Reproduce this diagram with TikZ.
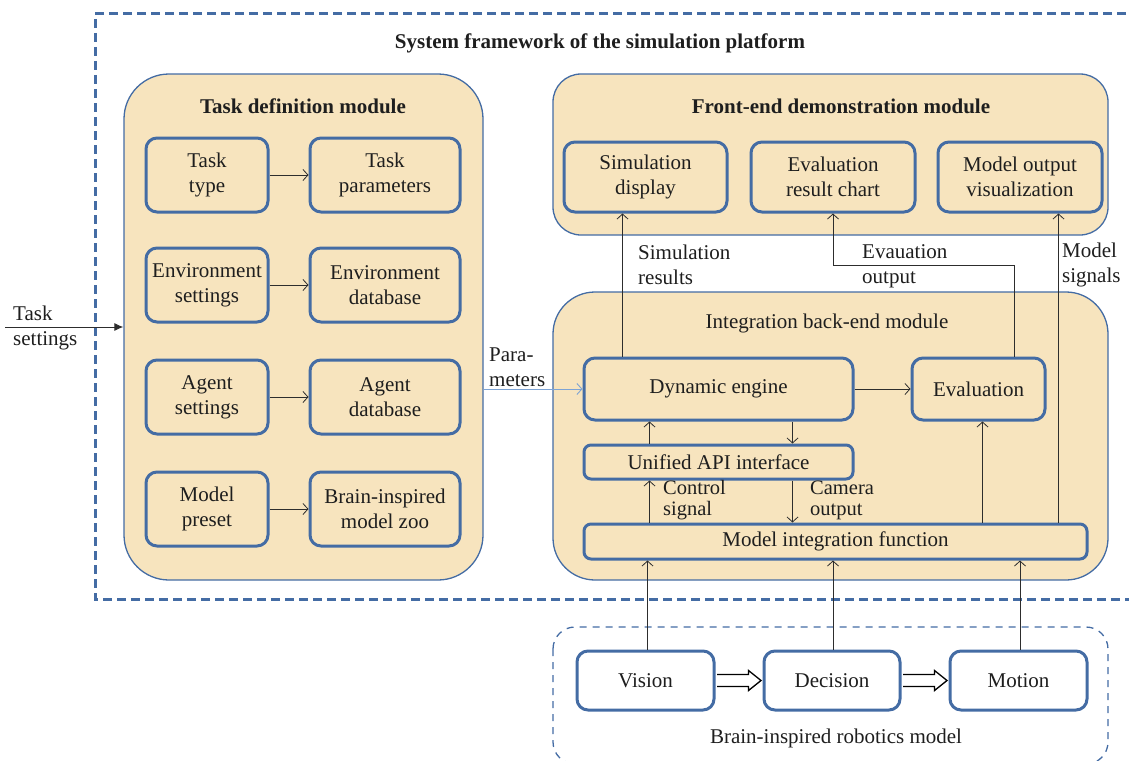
\documentclass[tikz,border=0pt]{standalone}
\usepackage{fontspec}
\IfFontExistsTF{LiberationSerif-Regular.ttf}{\setmainfont{LiberationSerif}[Extension=.ttf,UprightFont=*-Regular,BoldFont=*-Bold,ItalicFont=*-Italic,BoldItalicFont=*-BoldItalic]}{\setmainfont{Liberation Serif}}
\usetikzlibrary{arrows.meta,calc}
\definecolor{beige}{RGB}{247,228,190}
\definecolor{bdr}{RGB}{68,108,164}
\definecolor{lineclr}{RGB}{45,45,45}
\definecolor{txt}{RGB}{30,30,30}
\definecolor{parblue}{RGB}{125,163,212}
\tikzset{
  base/.style={font=\fontsize{21}{25}\selectfont, text=txt},
  module/.style={draw=bdr, fill=beige, line width=1.3pt, inner sep=0pt},
  box/.style={base, draw=bdr, fill=beige, line width=3pt, rounded corners=11pt, align=center, inner sep=0pt},
  rbox/.style={box, fill=white},
  conn/.style={draw=lineclr, line width=0.8pt, -{Straight Barb[length=5pt,width=11pt,line width=0.8pt]}},
  lbl/.style={base, anchor=west, align=left, inner sep=0pt},
  slbl/.style={lbl, font=\fontsize{20.5}{21}\selectfont},
  outerbox/.style={draw=bdr, line width=3pt, dash pattern=on 9pt off 5pt},
  robobox/.style={draw=bdr, line width=1.3pt, dash pattern=on 7pt off 6pt, rounded corners=22pt},
  hollow/.style={draw=black, fill=white, line width=1.3pt, line join=miter},
}
\begin{document}
\begin{tikzpicture}[x=1pt,y=-1pt]
\clip (0,0) rectangle (1129,760);
\useasboundingbox (0,0) rectangle (1129,760);

% outer dashed frame
\draw[outerbox] (1140,14) -- (95,14) -- (95,599) -- (1140,599);
\node[base] (title) at (600,43) {\bfseries System framework of the simulation platform};

% robotics dashed box
\draw[robobox] (553,627) rectangle (1108,764);
\node[base] (robotitle) at (836,738) {Brain-inspired robotics model};

% modules
\node[module, rounded corners=45pt, minimum width=359pt, minimum height=506pt] (taskdef) at (303.5,327) {};
\node[module, rounded corners=28pt, minimum width=555pt, minimum height=161pt] (frontend) at (830.5,154.5) {};
\node[module, rounded corners=42pt, minimum width=555pt, minimum height=288pt] (backend) at (830.5,436) {};

\node[base] (tdtitle) at (303,106) {\bfseries Task definition module};
\node[base] (fetitle) at (841,106) {\bfseries Front-end demonstration module};
\node[base] (betitle) at (827,323) {Integration back-end module};

% task definition boxes
\node[box, minimum width=122pt, minimum height=74pt] (tasktype) at (207,175) {Task\\type};
\node[box, minimum width=150pt, minimum height=74pt] (taskparam) at (385,175) {Task\\parameters};
\node[box, minimum width=122pt, minimum height=74pt] (envset) at (207,285) {Environment\\settings};
\node[box, minimum width=150pt, minimum height=74pt] (envdb) at (385,285) {Environment\\database};
\node[box, minimum width=122pt, minimum height=74pt] (agentset) at (207,397) {Agent\\settings};
\node[box, minimum width=150pt, minimum height=74pt] (agentdb) at (385,397) {Agent\\database};
\node[box, minimum width=122pt, minimum height=74pt] (modelpreset) at (207,509) {Model\\preset};
\node[box, minimum width=150pt, minimum height=74pt] (modelzoo) at (385,509) {Brain-inspired\\model zoo};

\draw[conn] (tasktype) -- (taskparam);
\draw[conn] (envset) -- (envdb);
\draw[conn] (agentset) -- (agentdb);
\draw[conn] (modelpreset) -- (modelzoo);

% front-end boxes
\node[box, minimum width=163pt, minimum height=70pt] (simdisp) at (645.5,177) {Simulation\\display};
\node[box, minimum width=164pt, minimum height=70pt] (evalchart) at (833,177) {Evaluation\\result chart};
\node[box, minimum width=164pt, minimum height=70pt] (modelvis) at (1020,177) {Model output\\visualization};

% back-end boxes
\node[box, minimum width=269pt, minimum height=62pt] (dyn) at (718.5,389) {Dynamic engine};
\node[box, minimum width=133pt, minimum height=62pt] (evalb) at (978.5,389) {Evaluation};
\node[box, rounded corners=7pt, minimum width=269pt, minimum height=34pt] (api) at (718.5,462) {Unified API interface};
\node[box, rounded corners=7pt, minimum width=503pt, minimum height=35pt] (mif) at (835.5,541.5) {Model integration function};

% robotics boxes
\node[rbox, minimum width=137pt, minimum height=59pt] (vision) at (645.5,680.5) {Vision};
\node[rbox, minimum width=136pt, minimum height=59pt] (decision) at (832,680.5) {Decision};
\node[rbox, minimum width=137pt, minimum height=59pt] (motion) at (1018.5,680.5) {Motion};

% hollow arrows
\draw[hollow] ($(vision.east)+(1.5,-6)$) -- ($(decision.west)+(-14,-6)$) -- ($(decision.west)+(-14,-10)$) -- ($(decision.west)+(-1.5,0)$) -- ($(decision.west)+(-14,10)$) -- ($(decision.west)+(-14,6)$) -- ($(vision.east)+(1.5,6)$);
\draw[hollow] ($(decision.east)+(1.5,-6)$) -- ($(motion.west)+(-14,-6)$) -- ($(motion.west)+(-14,-10)$) -- ($(motion.west)+(-1.5,0)$) -- ($(motion.west)+(-14,10)$) -- ($(motion.west)+(-14,6)$) -- ($(decision.east)+(1.5,6)$);

% connectors back-end -> front-end
\coordinate (a1) at ($(dyn.north west)+(40,0)$);
\draw[conn] (a1) -- (a1 |- simdisp.south);
\coordinate (e1) at ($(evalb.north west)+(104,0)$);
\draw[conn] (e1) -- ++(0,-91) -| (evalchart.south);
\coordinate (m1) at ($(mif.north east)+(-30,0)$);
\draw[conn] (m1) -- (m1 |- modelvis.south);

\node[lbl] (simreslbl) at (638,265) {Simulation\\results};
\node[lbl] (evallbl) at (862,266) {Evauation\\output};
\node[lbl] (msiglbl) at (1062,265) {Model\\signals};

% inside back-end
\draw[conn] (dyn) -- (evalb);
\coordinate (u1) at ($(api.north west)+(67,0)$);
\draw[conn] (u1) -- (u1 |- dyn.south);
\coordinate (d1) at ($(dyn.south west)+(210,0)$);
\draw[conn] (d1) -- (d1 |- api.north);
\coordinate (c1) at (u1 |- mif.north);
\draw[conn] (c1) -- (c1 |- api.south);
\coordinate (d2) at (d1 |- api.south);
\draw[conn] (d2) -- (d2 |- mif.north);
\coordinate (v1) at ($(mif.north west)+(400,0)$);
\draw[conn] (v1) -- (v1 |- evalb.south);

\node[slbl] (ctrllbl) at (663,500) {Control\\signal};
\node[slbl] (camlbl) at (810,500) {Camera\\output};

% robotics -> model integration
\coordinate (r1) at ($(vision.north)+(2,0)$);
\draw[conn] (r1) -- (r1 |- mif.south);
\coordinate (r2) at ($(decision.north)+(1,0)$);
\draw[conn] (r2) -- (r2 |- mif.south);
\coordinate (r3) at ($(motion.north)+(1.5,0)$);
\draw[conn] (r3) -- (r3 |- mif.south);

% task settings
\coordinate (tsin) at (5,327);
\draw[draw=lineclr, line width=0.8pt, -{Latex[length=9pt,width=8pt]}] (tsin) -- (taskdef.west);
\node[lbl] (tslbl) at (13,328) {Task\\settings};

% parameters
\draw[draw=parblue, line width=0.9pt, -{Straight Barb[length=5pt,width=11pt,line width=0.9pt]}] (taskdef.east |- dyn.west) -- (dyn.west);
\node[lbl] (parlbl) at (489,367) {Para-\\meters};
\end{tikzpicture}
\end{document}
